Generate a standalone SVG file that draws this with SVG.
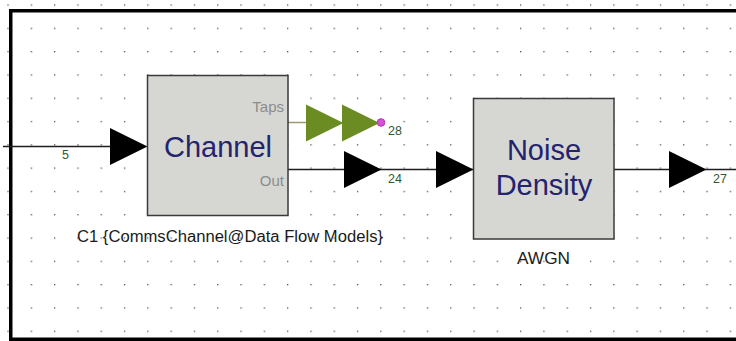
<svg xmlns="http://www.w3.org/2000/svg" xmlns:xlink="http://www.w3.org/1999/xlink" width="736" height="341" viewBox="0 0 736 341">
<style>
.blk{fill:#d6d7d3;stroke:#3a3a3a;stroke-width:1.5}
.title{font-family:"Liberation Sans",Arial,sans-serif;font-size:29px;fill:#23236e;text-anchor:middle}
.port{font-family:"Liberation Sans",Arial,sans-serif;font-size:15px;fill:#8c8c8c;text-anchor:end}
.lbl{font-family:"Liberation Sans",Arial,sans-serif;font-size:16px;fill:#1a1a1a}
.num{font-family:"Liberation Sans",Arial,sans-serif;font-size:12.5px;fill:#2f5a2f}
.wire{stroke:#1e1e1e;stroke-width:1.5;fill:none}
.gwire{stroke:#9a9a6a;stroke-width:1.5;fill:none}
.arr{fill:#000}
.garr{fill:#6b8b23}
</style>
<defs>
<pattern id="grid" patternUnits="userSpaceOnUse" x="7.4" y="4.4" width="23.3" height="23.3">
<rect x="0" y="0" width="1.3" height="1.3" fill="#555"/>
</pattern>
<path id="tri" d="M0,-18.5 L0,18.5 L37.5,0 Z"/>
</defs>
<rect width="736" height="341" fill="#fff"/>
<rect width="736" height="341" fill="url(#grid)"/>
<rect x="10.75" y="10.75" width="800" height="328.5" fill="none" stroke="#000" stroke-width="3.5"/>
<g id="connectors">
<line class="wire" x1="3" y1="146.5" x2="112" y2="146.5"/>
<use href="#tri" class="arr" x="110" y="146.5"/>
<text class="num" x="62" y="159">5</text>
<line class="gwire" x1="288" y1="122.5" x2="307" y2="122.5"/>
<use href="#tri" class="garr" x="306" y="123"/>
<use href="#tri" class="garr" x="342" y="123"/>
<circle cx="381" cy="122.5" r="3.8" fill="#d651d6" stroke="#a83aa8" stroke-width="1"/>
<text class="num" x="388" y="135">28</text>
<line class="wire" x1="288" y1="169.5" x2="474" y2="169.5"/>
<use href="#tri" class="arr" x="344" y="169.5"/>
<text class="num" x="388" y="183">24</text>
<use href="#tri" class="arr" x="436" y="169.5"/>
<line class="wire" x1="614" y1="169.5" x2="736" y2="169.5"/>
<use href="#tri" class="arr" x="669" y="169.5"/>
<text class="num" x="713" y="183">27</text>
</g>
<g id="channel">
<rect class="blk" x="147.5" y="75.5" width="140.5" height="140"/>
<text class="title" x="218" y="157">Channel</text>
<text class="port" x="284" y="112">Taps</text>
<text class="port" x="284" y="186">Out</text>
<text class="lbl" x="77" y="242" textLength="306" lengthAdjust="spacingAndGlyphs">C1 {CommsChannel@Data Flow Models}</text>
</g>
<g id="noise_density">
<rect class="blk" x="473.5" y="98.5" width="140.5" height="140.5"/>
<text class="title" x="544" y="160">Noise</text>
<text class="title" x="544" y="195">Density</text>
<text class="lbl" x="517" y="264" textLength="53" lengthAdjust="spacingAndGlyphs">AWGN</text>
</g>
</svg>
